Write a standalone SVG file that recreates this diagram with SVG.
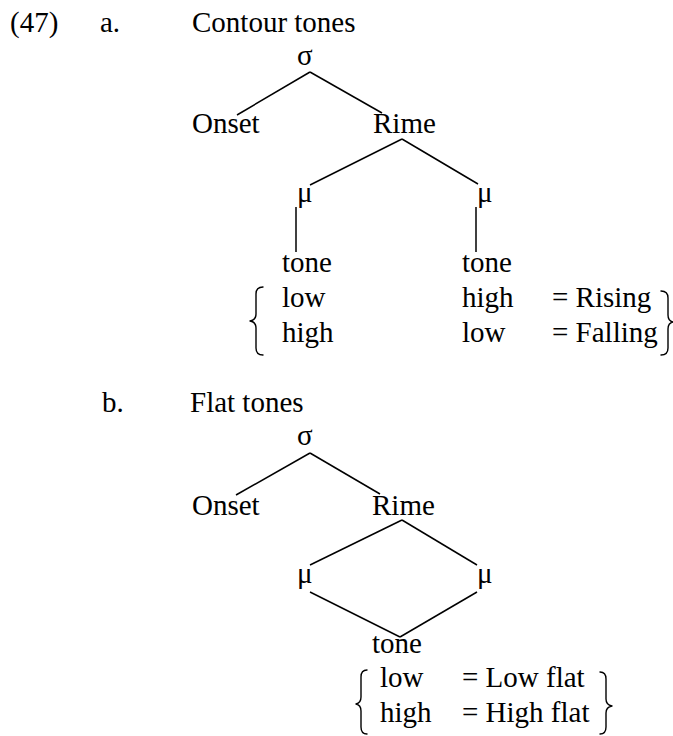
<svg xmlns="http://www.w3.org/2000/svg" width="673" height="736" viewBox="0 0 673 736" font-family="'Liberation Serif', 'Times New Roman', Times, 'DejaVu Serif', serif">
<style>
text { font-family: 'Liberation Serif', 'Times New Roman', Times, 'DejaVu Serif', serif; font-size: 29px; fill: #000; }
.edge { stroke: #000; stroke-width: 1.5; fill: none; }
.brace { stroke: #000; stroke-width: 1.4; fill: none; stroke-linejoin: round; stroke-linecap: round; }
</style>
<rect width="673" height="736" fill="#fff"/>
<g id="labels">
<text x="10" y="32">(47)</text>
<text x="100" y="32">a.</text>
<text x="192" y="32">Contour tones</text>
<text x="102" y="412">b.</text>
<text x="190" y="412">Flat tones</text>
</g>
<g id="connectors">
<line class="edge" x1="310" y1="72" x2="237" y2="115"/>
<line class="edge" x1="310" y1="72" x2="382" y2="113"/>
<line class="edge" x1="402" y1="139" x2="310" y2="185"/>
<line class="edge" x1="402" y1="139" x2="478" y2="184"/>
<line class="edge" x1="296" y1="207" x2="296" y2="252"/>
<line class="edge" x1="476" y1="207" x2="476" y2="252"/>
<line class="edge" x1="310" y1="453" x2="236" y2="495"/>
<line class="edge" x1="310" y1="453" x2="380" y2="494"/>
<line class="edge" x1="402" y1="520" x2="310" y2="565"/>
<line class="edge" x1="402" y1="520" x2="477" y2="565"/>
<line class="edge" x1="310" y1="592" x2="400" y2="637"/>
<line class="edge" x1="477" y1="592" x2="400" y2="637"/>
</g>
<g id="a-sigma"><text x="297" y="65">σ</text></g>
<g id="a-onset"><text x="192" y="133">Onset</text></g>
<g id="a-rime"><text x="373" y="133">Rime</text></g>
<g id="a-mu1"><text x="297" y="202">μ</text></g>
<g id="a-mu2"><text x="477" y="202">μ</text></g>
<g id="a-tone1">
<text x="282" y="272">tone</text>
<text x="282" y="307">low</text>
<text x="282" y="342">high</text>
</g>
<g id="a-tone2">
<text x="462" y="272">tone</text>
<text x="462" y="307">high</text>
<text x="462" y="342">low</text>
</g>
<g id="a-results">
<text x="552" y="307">= Rising</text>
<text x="552" y="342">= Falling</text>
</g>
<g id="a-braces">
<path class="brace" d="M263 287 Q256 287 256 294 L256 314 Q256 320 250 321 Q256 322 256 328 L256 348 Q256 355 263 355"/>
<path class="brace" d="M661 291 Q668 291 668 298 L668 315 Q668 321 673 322 Q668 323 668 329 L668 348 Q668 355 661 355"/>
</g>
<g id="b-sigma"><text x="297" y="445">σ</text></g>
<g id="b-onset"><text x="192" y="515">Onset</text></g>
<g id="b-rime"><text x="372" y="515">Rime</text></g>
<g id="b-mu1"><text x="297" y="583">μ</text></g>
<g id="b-mu2"><text x="477" y="583">μ</text></g>
<g id="b-tone">
<text x="372" y="653">tone</text>
<text x="380" y="687">low</text>
<text x="380" y="722">high</text>
</g>
<g id="b-results">
<text x="462" y="687">= Low flat</text>
<text x="462" y="722">= High flat</text>
</g>
<g id="b-braces">
<path class="brace" d="M367 670 Q361 670 361 677 L361 697 Q361 703 356 704 Q361 705 361 711 L361 727 Q361 734 367 734"/>
<path class="brace" d="M600 672 Q606 672 606 679 L606 699 Q606 705 612 706 Q606 707 606 713 L606 727 Q606 734 600 734"/>
</g>
</svg>
